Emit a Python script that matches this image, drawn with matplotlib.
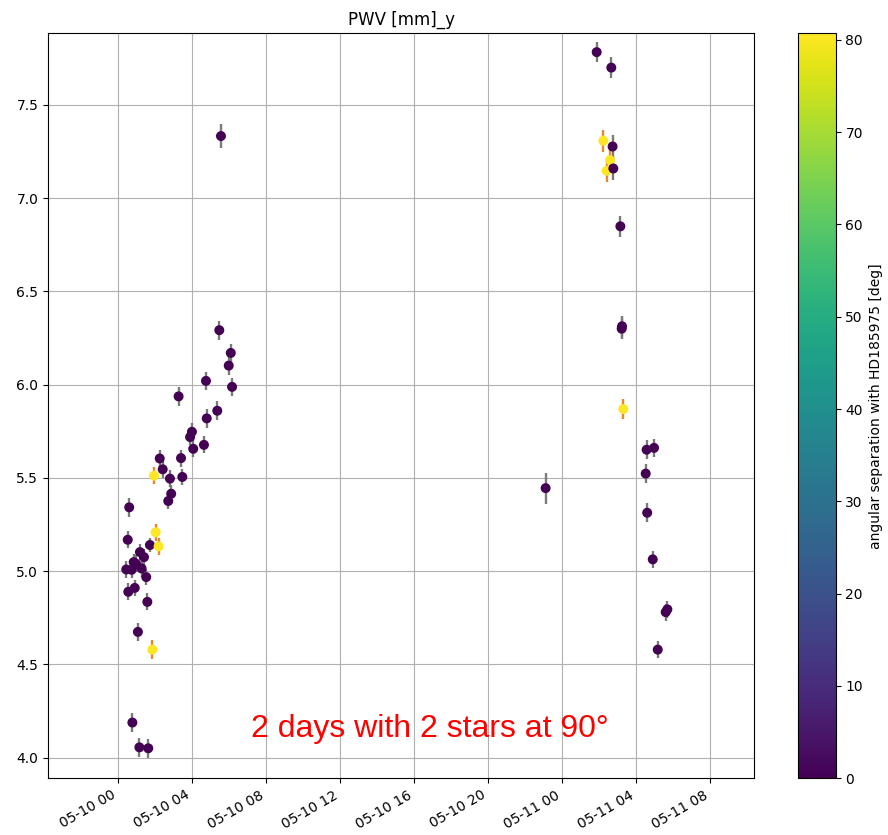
import numpy as np
import pandas as pd
import matplotlib
matplotlib.use("Agg")
import matplotlib.pyplot as plt
import matplotlib.dates as mdates

# hours after 2022-05-10 00:00
hours = [5.46, 6.08, 5.97, 6.15, 4.74, 3.26, 5.35, 4.78, 3.98, 3.88,
         4.63, 4.05, 2.24, 3.39, 2.40, 1.93, 2.79, 3.46, 2.86, 2.70,
         0.59, 5.55, 2.02, 0.51, 1.71, 2.18, 1.17, 1.39, 0.83, 0.96,
         0.43, 0.72, 1.26, 1.51, 0.54, 0.89, 1.57, 1.06, 1.84, 0.76,
         1.14, 1.62,
         25.86, 26.65, 26.22, 26.72, 26.58, 26.40, 26.76, 27.14, 27.23, 27.21,
         27.30, 28.56, 28.96, 28.51, 28.59, 28.89, 29.68, 29.59, 29.16, 23.10]
pwv = [6.292, 6.170, 6.102, 5.988, 6.020, 5.937, 5.860, 5.819, 5.747, 5.719,
       5.677, 5.656, 5.604, 5.606, 5.546, 5.512, 5.496, 5.505, 5.415, 5.376,
       5.342, 7.333, 5.208, 5.168, 5.140, 5.133, 5.102, 5.075, 5.048, 5.039,
       5.009, 5.007, 5.014, 4.968, 4.889, 4.910, 4.835, 4.674, 4.579, 4.188,
       4.055, 4.050,
       7.783, 7.700, 7.308, 7.277, 7.204, 7.147, 7.159, 6.849, 6.313, 6.300,
       5.869, 5.651, 5.661, 5.523, 5.313, 5.063, 4.795, 4.780, 4.579, 5.445]
pwv_err = [0.05, 0.05, 0.05, 0.05, 0.05, 0.05, 0.05, 0.05, 0.045, 0.045,
           0.045, 0.045, 0.045, 0.045, 0.045, 0.045, 0.045, 0.045, 0.045, 0.045,
           0.05, 0.065, 0.045, 0.045, 0.04, 0.045, 0.045, 0.045, 0.045, 0.045,
           0.045, 0.045, 0.045, 0.045, 0.045, 0.045, 0.045, 0.05, 0.05, 0.05,
           0.05, 0.05,
           0.055, 0.055, 0.06, 0.06, 0.06, 0.06, 0.06, 0.055, 0.055, 0.055,
           0.055, 0.05, 0.05, 0.05, 0.05, 0.045, 0.045, 0.045, 0.045, 0.083]
separation = [0, 0, 0, 0, 0, 0, 0, 0, 0, 0,
              0, 0, 0, 0, 0, 80.7, 0, 0, 0, 0,
              0, 0, 80.7, 0, 0, 80.7, 0, 0, 0, 0,
              0, 0, 0, 0, 0, 0, 0, 0, 80.7, 0,
              0, 0,
              0, 0, 80.7, 0, 80.7, 80.7, 0, 0, 0, 0,
              80.7, 0, 0, 0, 0, 0, 0, 0, 0, 0]

t0 = pd.Timestamp("2022-05-10 00:00")
times = [t0 + pd.Timedelta(hours=h) for h in hours]
tnum = mdates.date2num(times)

W, H = 888, 835
fig = plt.figure(figsize=(W / 100, H / 100), dpi=100)
ax = fig.add_axes([48 / W, (H - 778.3) / H, (754.3 - 48) / W, (778.3 - 33.3) / H])
cax = fig.add_axes([797.7 / W, (H - 778.3) / H, (835.7 - 797.7) / W, (778.3 - 33.3) / H])

sep = np.array(separation)
ecols = ['#e8892a' if s > 40 else '#7a7a7a' for s in sep]
for x, y, e, c in zip(tnum, pwv, pwv_err, ecols):
    ax.errorbar(x, y, yerr=e, fmt='none', ecolor=c, elinewidth=1.7, zorder=2)
sc = ax.scatter(tnum, pwv, c=sep, cmap='viridis', vmin=0, vmax=80.7, s=38, zorder=3)

ax.set_xlim(mdates.date2num(t0 + pd.Timedelta(hours=-3.80)),
            mdates.date2num(t0 + pd.Timedelta(hours=34.38)))
ax.set_ylim(3.889, 7.884)
ax.xaxis.set_major_locator(mdates.HourLocator(byhour=[0, 4, 8, 12, 16, 20]))
ax.xaxis.set_major_formatter(mdates.DateFormatter('%m-%d %H'))
for lbl in ax.get_xticklabels():
    lbl.set_rotation(30)
    lbl.set_ha('right')
ax.grid(True, color='#b0b0b0', linewidth=0.8)
ax.set_axisbelow(True)
ax.set_title('PWV [mm]_y', fontsize=12)

cb = fig.colorbar(sc, cax=cax)
cb.set_ticks([0, 10, 20, 30, 40, 50, 60, 70, 80])
cb.set_label('angular separation with HD185975 [deg]', fontsize=10)

ax.text(0.541, 0.066, '2 days with 2 stars at 90°', transform=ax.transAxes,
        color='red', fontsize=23, family='Liberation Sans',
        ha='center', va='center')

fig.savefig('out.png', dpi=100)
